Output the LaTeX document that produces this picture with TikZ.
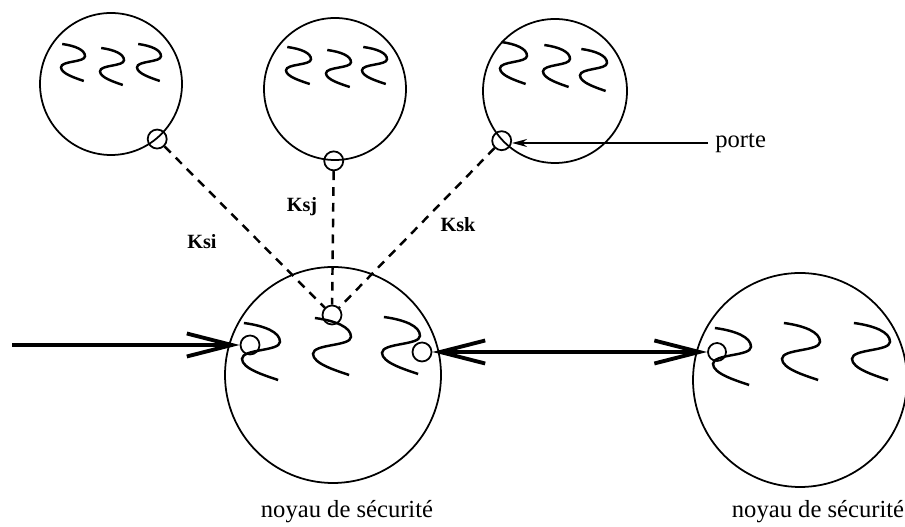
\documentclass[tikz,border=0pt]{standalone}
\usepackage{fontspec}
\setmainfont{Liberation Serif}
\usetikzlibrary{arrows.meta}

\begin{document}
\begin{tikzpicture}[>=stealth,x=1cm,y=1cm,
	domaine/.style={circle,draw,line width=1pt,inner sep=0pt,minimum size=#1},
	port/.style={circle,draw,line width=1pt,inner sep=0pt,minimum size=0.38cm},
	cle/.style={line width=1.4pt,dash pattern=on 5pt off 4pt},
	canal/.style={line width=2.2pt},
	barbe/.tip={Straight Barb[length=9mm,width=4.6mm]},
	etiq/.style={font=\bfseries\fontsize{11.5}{13}\selectfont},
	texte/.style={font=\fontsize{14}{16}\selectfont},
	vague/.pic={\draw[line width=1.4pt] (0.05,0) .. controls (0.6,-0.05) and (1,-0.16) .. (1,-0.33) .. controls (1,-0.5) and (0,-0.45) .. (0,-0.63) .. controls (0,-0.8) and (0.6,-0.92) .. (0.95,-1);}]
	\useasboundingbox (0,0) rectangle (18.1,10.54);
	% les trois domaines du haut
	\node[domaine=2.84cm] (Pi) at (2.22,8.86) {};
	\node[domaine=2.84cm] (Pj) at (6.70,8.76) {};
	\node[domaine=2.88cm] (Pk) at (11.10,8.72) {};
	% les deux noyaux
	\node[domaine=4.32cm] (N) at (6.66,3.04) {};
	\node[domaine=4.28cm] (M) at (16.00,2.94) {};
	% processus
	\foreach \a/\b in {1.22/9.66,2.00/9.58,2.74/9.66}
		\pic[xscale=.48,yscale=.74] at (\a,\b) {vague};
	\foreach \a/\b in {5.72/9.60,6.52/9.54,7.24/9.60}
		\pic[xscale=.50,yscale=.74] at (\a,\b) {vague};
	\foreach \a/\b in {10.00/9.70,10.86/9.64,11.60/9.56}
		\pic[xscale=.54,yscale=.84] at (\a,\b) {vague};
	\foreach \a/\b in {4.84/4.08,6.26/4.18,7.64/4.20}
		\pic[xscale=.76,yscale=1.14] at (\a,\b) {vague};
	\foreach \a/\b in {14.26/3.98,15.64/4.08,17.04/4.08}
		\pic[xscale=.76,yscale=1.14] at (\a,\b) {vague};
	% portes
	\node[port] (pi) at (Pi.-50) {};
	\node[port] (pj) at (Pj.-91) {};
	\node[port] (pk) at (Pk.-137) {};
	\node[port] (pc) at (6.64,4.24) {};
	\node[port] (pg) at (5.00,3.64) {};
	\node[port] (pd) at (8.44,3.50) {};
	\node[port,minimum size=0.36cm] (pm) at (14.34,3.50) {};
	% clés de session
	\draw[cle] (pi) -- (pc);
	\draw[cle] (pj) -- (pc);
	\draw[cle] (pk) -- (pc);
	\node[etiq] (Ksi) at (4.04,5.70) {Ksi};
	\node[etiq] (Ksj) at (6.04,6.40) {Ksj};
	\node[etiq] (Ksk) at (9.16,6.04) {Ksk};
	% porte
	\node[texte,anchor=west,inner sep=4pt] (porte) at (14.16,7.68) {porte};
	\draw[-{Stealth[length=3mm,width=1.6mm]},line width=0.8pt] (porte.west) -- (pk.east |- porte.west);
	% canaux
	\coordinate (entree) at (0.24,3.64);
	\draw[canal,-barbe] (entree) -- (pg.west);
	\draw[canal,barbe-barbe] (pd.east) -- (pm.west);
	\node[texte] (noyauN) at (6.94,0.30) {noyau de sécurité};
	\node[texte] (noyauM) at (16.36,0.30) {noyau de sécurité};
\end{tikzpicture}
\end{document}
